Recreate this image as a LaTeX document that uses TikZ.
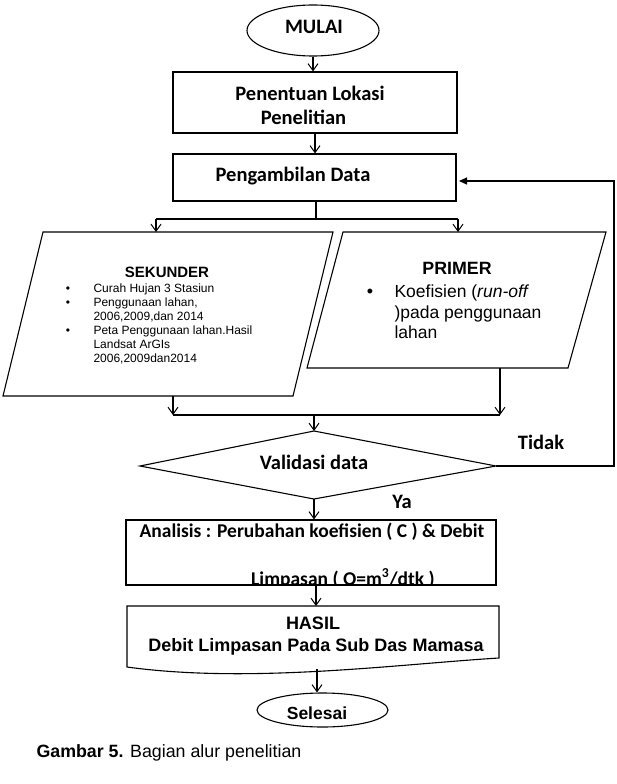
\documentclass[tikz,border=0pt]{standalone}
\usepackage{fontspec}
\setmainfont{Liberation Sans}
\newfontfamily\calfont{Carlito}
\usetikzlibrary{shapes.geometric,arrows.meta}
\newcommand{\cbf}{\calfont\bfseries\fontsize{20.5}{24}\selectfont}
\newcommand{\cbfs}{\calfont\bfseries\fontsize{19.5}{24}\selectfont}
\newcommand{\abf}[1]{\bfseries\fontsize{#1}{#1}\selectfont}
\newcommand{\anr}[1]{\fontsize{#1}{#1}\selectfont}
\begin{document}
\begin{tikzpicture}[x=1pt,y=-1pt,line width=1.1pt,
  arr/.style={-{Straight Barb[length=7pt,width=10pt,line width=1pt]}},
  farr/.style={-{Triangle[length=8pt,width=7pt]}},
  shp/.style={draw,inner sep=0pt},
  txt/.style={anchor=base,inner sep=0pt},
  txtw/.style={anchor=base west,inner sep=0pt}]
\useasboundingbox (0,0) rectangle (617,784);
\fill[white] (0,0) rectangle (617,784);

% MULAI
\node[shp,ellipse,minimum width=132pt,minimum height=51pt] (mulai) at (313,30.5) {};
\node[txt,font=\cbf] (mulaitxt) at (314,34) {MULAI};

% Penentuan lokasi
\node[shp,rectangle,minimum width=284pt,minimum height=61pt] (lok) at (315,102.5) {};
\node[txt,font=\cbf] (lok1) at (310,100) {Penentuan Lokasi};
\node[txt,font=\cbf] (lok2) at (303.5,124) {Penelitian};

% Pengambilan data
\node[shp,rectangle,minimum width=283pt,minimum height=47pt] (ambil) at (314.5,177.5) {};
\node[txt,font=\cbf] (ambiltxt) at (293,181) {Pengambilan Data};

\draw[arr] (mulai.south) -- (mulai.south |- lok.north);
\draw[arr] (lok.south) -- (lok.south |- ambil.north);

% branch
\coordinate (b0) at (316,219);
\coordinate (bl) at (156,219);
\coordinate (br) at (458,219);
\coordinate (sekin) at (156,232);
\coordinate (priin) at (458,232);
\draw (b0 |- ambil.south) -- (b0);
\draw (bl) -- (br);
\draw[arr] (bl) -- (sekin);
\draw[arr] (br) -- (priin);

% SEKUNDER
\coordinate (sa) at (43,232);
\coordinate (sb) at (333,232);
\coordinate (sc) at (293,396);
\coordinate (sd) at (3,396);
\draw (sa) -- (sb) -- (sc) -- (sd) -- cycle;
\node[txt,font=\abf{15}] (sektitle) at (167,277) {SEKUNDER};
\node[txt,font=\anr{12}] (sb1) at (68,292) {\textbullet};
\node[txt,font=\anr{12}] (sb2) at (68,306) {\textbullet};
\node[txt,font=\anr{12}] (sb3) at (68,334) {\textbullet};
\node[txtw,font=\anr{12}] (sl1) at (93,292) {Curah Hujan 3 Stasiun};
\node[txtw,font=\anr{12}] (sl2) at (93,306) {Penggunaan lahan,};
\node[txtw,font=\anr{12}] (sl3) at (93,320) {2006,2009,dan 2014};
\node[txtw,font=\anr{12}] (sl4) at (93,334) {Peta Penggunaan lahan.Hasil};
\node[txtw,font=\anr{12}] (sl5) at (93,348) {Landsat ArGIs};
\node[txtw,font=\anr{12}] (sl6) at (93,362) {2006,2009dan2014};

% PRIMER
\coordinate (pa) at (343,232);
\coordinate (pb) at (606,232);
\coordinate (pc) at (568,368);
\coordinate (pd) at (307,368);
\draw (pa) -- (pb) -- (pc) -- (pd) -- cycle;
\node[txt,font=\abf{17.8}] (prititle) at (457,274) {PRIMER};
\node[txt,font=\anr{18}] (pb1) at (370,297) {\textbullet};
\node[txtw,font=\anr{17.5}] (pl1) at (394,297) {Koefisien (\textit{run-off}};
\node[txtw,font=\anr{17.5}] (pl2) at (394,318) {)pada penggunaan};
\node[txtw,font=\anr{17.5}] (pl3) at (394,338) {lahan};

% merge
\coordinate (sekout) at (173,396);
\coordinate (priout) at (500,368);
\coordinate (m1) at (173,415);
\coordinate (m2) at (500,415);
\coordinate (mc) at (314,415);
\draw[arr] (sekout) -- (m1);
\draw[arr] (priout) -- (m2);
\draw (m1) -- (m2);

% Validasi
\coordinate (vt) at (314,431);
\coordinate (vl) at (140,466);
\coordinate (vr) at (496,466);
\coordinate (vb) at (314,499);
\draw (vt) -- (vr) -- (vb) -- (vl) -- cycle;
\node[txt,font=\cbf] (valtxt) at (314,469) {Validasi data};
\draw[arr] (mc) -- (vt);

% feedback
\coordinate (f1) at (614,466);
\coordinate (f2) at (614,181);
\coordinate (fin) at (459,181);
\draw[farr] (vr) -- (f1) -- (f2) -- (fin);
\node[txt,font=\cbf] (tidak) at (541,449) {Tidak};
\node[txt,font=\cbf] (ya) at (402,508) {Ya};

% Analisis
\node[shp,rectangle,minimum width=370pt,minimum height=65pt] (anl) at (311,552.5) {};
\draw[arr] (vb) -- (vb |- anl.north);
\node[txt,font=\cbfs] (anl1) at (312,537) {Analisis : Perubahan koefisien ( C ) \& Debit};
\begin{scope}
\clip (anl.south west) rectangle (anl.north east);
\node[txt,font=\cbfs] (anl2) at (343,585) {Limpasan ( Q=m\textsuperscript{3}/dtk )};
\end{scope}

% HASIL
\coordinate (ha) at (127,606);
\coordinate (hb) at (499,606);
\coordinate (hc) at (499,658);
\coordinate (hd) at (127,667);
\draw (ha) -- (hb) -- (hc) .. controls (400,664) and (250,684) .. (hd) -- cycle;
\node[txt,font=\abf{18}] (hasil1) at (313,629) {HASIL};
\node[txt,font=\abf{18}] (hasil2) at (316,651) {Debit Limpasan Pada Sub Das Mamasa};
\coordinate (hin) at (316,606);
\draw[arr] (anl.south -| hin) -- (hin);

% Selesai
\node[shp,ellipse,minimum width=131pt,minimum height=34pt] (sel) at (322.5,710) {};
\node[txt,font=\abf{17.5}] (seltxt) at (317,719) {Selesai};
\coordinate (hout) at (317,669);
\draw[arr] (hout) -- (hout |- sel.north);

% caption
\node[txtw,font=\anr{17.8}] (cap) at (36,757) {\textbf{Gambar 5.} Bagian alur penelitian};
\end{tikzpicture}
\end{document}
